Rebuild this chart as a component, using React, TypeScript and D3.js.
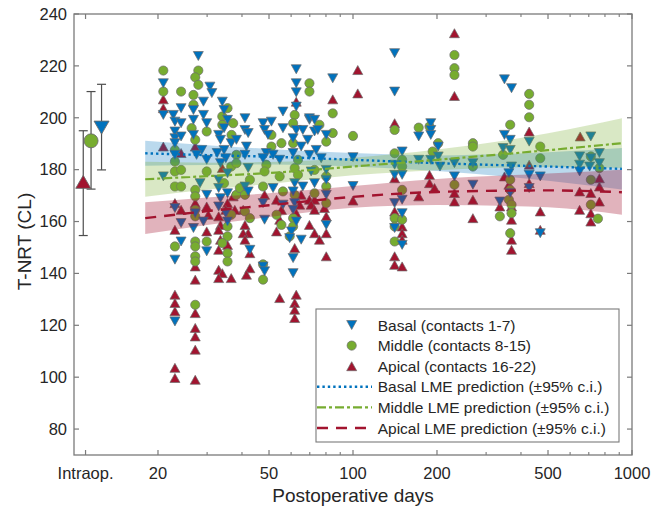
import React from 'react';
import * as d3 from 'd3';

// ---------- DATA ----------
// [postoperative day, T-NRT (CL)]
const basalPoints: [number, number][] = [
  [20.9,213.3],[20.9,201.1],[20.9,177.4],
  [22.7,201.1],[23,198.5],[23,194.7],[23,192.1],[23,190.2],[23,185.7],[23,165.2],[23,145.3],[23,121.5],
  [24.2,203.7],[24.2,197.9],[24.2,192.8],[24.2,159.4],[24.2,152.3],
  [27.9,223.8],[30.7,212],[31.2,209.5],[29.1,206.2],[26.8,203],[29.1,201.1],[26.8,199.2],[29.9,197.9],[26.8,193.4],
  [28.7,187.6],[27.5,185.7],[29.9,183.8],[28.3,174.8],[29.9,170.3],[27.2,163.2],[29.1,160],[26.8,157.5],[29.9,148.5],
  [34,206.2],[34.5,203],[35.5,199.2],[34.5,196],[33,193.4],[33.5,191.5],[36.6,190.2],[34.5,187.6],[32.6,186.4],
  [35,184.4],[33.5,182.5],[35.5,178.6],[33,176.1],[33,172.9],[35.5,170.9],[33.5,169],[33,165.8],[35,163.2],[35.5,160],
  [41,199.8],[41,195.3],[42.1,194.1],[38.2,191.5],[41.5,188.9],[41,185.7],[42.1,180.6],[41,173.5],[42.1,171.6],[42.7,149.1],
  [56.1,202.4],[47.6,197.9],[51,198.5],[56.1,196],[48.2,195.3],[49.6,193.4],[48.9,186.4],[51.7,185.7],[47.6,184.4],
  [54.6,183.8],[51.7,172.9],[47.6,167.1],[56.1,166.5],[48.2,160.7],[47.6,142.7],[48.2,140.8],
  [62.6,218.7],[62.6,213.3],[62.6,209.8],[62.6,204.3],[69.8,199.2],[62.6,195.3],[66.1,195.3],[72.8,194.7],[61,192.1],
  [68.8,191.5],[65.2,188.9],[61,186.4],[69.8,185.7],[70.8,179.3],[61.8,174.8],[66.1,173.5],[61,171.6],[61.8,167.1],
  [61,164.5],[62.6,160],[60.2,156.2],[59.3,153.6],[65.2,153],[61,145.9],[61,140.1],
  [84.6,215.2],[69.8,199.8],[72.8,199.2],[74.8,195.3],[80.2,193.4],[73.8,187.6],[76.9,184.4],[80.2,179.9],[80.2,176.1],
  [72.8,174.8],[80.2,170.3],[80.2,158.7],
  [100,184.8],[100,173.7],
  [141,224.9],[141,210.1],[141,181.9],[141,178],[141,167.1],[141,157.5],
  [150,187],[150,178],[150,168.4],[150,163.2],[150,151],
  [172,192.8],[172,183.8],
  [190,197.9],[190,195.3],[190,193.4],[202,188.9],[190,183.8],[202,185.1],[205,181.2],
  [231,182.5],[231,177.4],
  [269,182.5],[269,174.2],
  [349,214.8],[370,211.4],[349,193.4],[366,191.5],[345,188.3],[366,187.6],[370,181.2],[362,178.6],[366,171],[336,167.7],
  [428,190.8],[428,178],[428,172.9],
  [469,177.4],[469,155.5],
  [712,192.8],[649,185.1],[764,186.4],[712,184.4],[649,181.9],[764,182.5],[705,181.2],[649,179.3],
];

const middlePoints: [number, number][] = [
  [20.9,218.2],[20.9,210.1],
  [23,187.6],[23,183.1],[23,179.3],[23,173.5],[23,150.4],
  [24.2,210.1],[24.2,179.9],[24.2,173.5],
  [27.9,218.2],[27.2,215.6],[27.9,212.7],[26.8,208.8],[26.8,205],[26.4,196],[29.9,194.7],[27.2,191.5],[29.9,179.3],
  [27.2,172.2],[27.2,169.7],[27.2,164.5],[27.2,162],[27.2,152.3],[29.9,152.3],[27.2,150.4],[27.2,146.6],[27.2,144.6],[27.2,127.9],
  [35.5,203.7],[34,200.5],[34,197.3],[36.7,193.4],[36.6,181.2],[34.5,174.8],[38.2,170.3],[36.6,162.6],[35.5,158.1],
  [35.5,154.3],[34,151.7],[35.5,147.8],[35.5,144.6],
  [37.2,197.9],[38.2,185.7],[38.2,182.5],[42.7,176.1],[39.3,172.9],[41,170.3],[41,163.9],[42.7,161.3],
  [51,193.4],[55.4,190.2],[51,188.9],[48.9,181.9],[48.2,179.3],[54.6,177.4],[47.6,173.5],[56.1,171.6],[53.2,162.6],
  [55.4,158.7],[47.6,137.6],[47.6,143.5],
  [69.8,213.3],[69.8,210.1],[61.8,201.1],[61,197.9],[61,190.2],[63.5,183.8],[61.8,180.6],[63.5,178],[61.8,170.3],
  [61,161.3],[61,158.1],[59.3,154.3],
  [84.6,201.7],[75.8,197.3],[84.6,194.1],[80.2,190.8],[72.8,179.9],[80.2,177.4],[80.2,173.5],[72.8,170.9],[80.2,167.1],
  [100,193],
  [141,195.3],[141,186.3],[141,161.3],[141,158.1],[141,152.3],
  [150,183.8],[150,181.2],[150,172.2],[150,160.7],
  [172,196.2],
  [188,196.6],[202,190.2],[193,187],
  [231,224.2],[231,219.1],[231,216.5],[231,174.2],
  [269,190.2],[269,188.9],[269,181.2],
  [366,197.3],[345,185.7],[366,176.1],[366,172.2],[362,168.4],[370,166.5],[370,163.2],[336,162],[366,155.5],
  [428,209.2],[428,205],[428,200.2],
  [469,188.9],[469,184.4],
  [712,185.1],[764,180.6],[712,176.1],[712,166.5],[755,161.1],
];

const apicalPoints: [number, number][] = [
  [20.9,207.1],[20.9,203.7],[20.9,188.9],
  [23,167.1],[23,156.8],[23,131.8],[23,128.6],[23,125.4],[23,103.6],[23,99.7],
  [24.2,186.4],[24.2,164.5],
  [27.2,188.9],[27.2,167.1],[29.9,165.8],[30.3,162.6],[29.9,156.2],[27.2,142.7],[27.2,137.6],[27.2,124.7],[27.2,119],
  [27.2,115.7],[27.2,110.6],[27.2,99],
  [34,180.6],[35.5,167.1],[35,164.5],[33,162],[33.5,158.7],[33,156.8],[33.5,153],[35.5,151],[33,149.1],[33,141.4],
  [34,140.1],[33,138.2],[36.6,138.2],
  [37.2,169.7],[40.4,164.5],[37.7,164.5],[41,158.7],[42.1,155.5],[40.4,155.5],[41,153],[42.7,147.8],[42.7,142],[41.5,139.5],
  [48.2,170.3],[53.2,168.4],[55.4,164.5],[54.6,160.7],[53.2,156.2],[54.6,130.5],
  [62.6,206.2],[65.2,170.3],[69.8,168.4],[64.4,166.5],[62.6,163.2],[61.8,149.8],[62.6,131.8],[61.8,128.6],[61.8,126],[61.8,122.8],
  [84.6,207.1],[72.8,168.4],[70.8,166.5],[79,165.2],[72.8,164.5],[80.2,162],[69.8,158.7],[72.8,155.5],[80.2,155.5],
  [75.8,153],[80.2,146.6],
  [100,168.1],[104,218.4],[104,209.4],
  [141,197.9],[141,176.7],[141,163.9],[141,146.6],[141,143.3],
  [150,158.1],[150,155.5],[150,153],[150,142.7],
  [172,169.7],
  [188,178],[188,174.8],[196,172.9],
  [231,232.6],[231,208.4],[231,171],[231,167.7],
  [269,168.4],[269,161.3],
  [349,177.4],[362,174.2],[336,165.8],[370,165.8],[370,160.7],[370,153],[370,149.1],
  [428,194.7],[428,181.9],[428,174.8],
  [469,163.9],[469,156.8],
  [652,192.8],[764,176.7],[764,173.5],[649,171.6],[712,171],[764,167.7],[649,164.5],[712,163.2],[712,160],
];

// LME predictions (with 95% c.i.)
const predDays = [18, 30, 50, 100, 200, 500, 920];
const basalFit = [186.3, 185.6, 185.0, 183.8, 182.5, 181.2, 180.3];
const basalLow = [181.5, 181.8, 182.0, 181.2, 179.5, 175.7, 172.3];
const basalHigh = [191.1, 189.4, 188.0, 186.4, 185.5, 186.7, 188.3];
const middleFit = [176.3, 177.5, 178.7, 181.2, 183.8, 187.5, 190.2];
const middleLow = [169.6, 172.3, 174.5, 177.8, 179.8, 181.0, 180.6];
const middleHigh = [183.0, 182.7, 182.9, 184.6, 187.8, 194.0, 199.8];
const apicalFit = [161.3, 164.0, 166.3, 169.5, 171.4, 172.0, 171.3];
const apicalLow = [155.2, 158.7, 161.7, 165.3, 166.4, 165.5, 162.6];
const apicalHigh = [167.4, 169.3, 170.9, 173.7, 176.4, 178.5, 180.0];

// Intraoperative means with error bars: apical, middle, basal
const intraopMean = [175.3, 191.1, 196.2];
const intraopLow = [154.6, 172.5, 179.9];
const intraopHigh = [195.0, 210.1, 212.9];
const intraopDay = 11;

const yTicks = [80, 100, 120, 140, 160, 180, 200, 220, 240];
const xMajorTicks = [20, 50, 100, 200, 500, 1000];
const xMinorTicks = [30, 40, 60, 70, 80, 90, 300, 400, 600, 700, 800, 900];
const legendLabels = [
  'Basal (contacts 1-7)',
  'Middle (contacts 8-15)',
  'Apical (contacts 16-22)',
  'Basal LME prediction (\u00B195% c.i.)',
  'Middle LME prediction (\u00B195% c.i.)',
  'Apical LME prediction (\u00B195% c.i.)',
];

// ---------- STYLE ----------
const BLUE = '#0072BD';
const GREEN = '#77AC30';
const RED = '#A2142F';
const EDGE = '#6b6b6b';
const AXIS = '#7a7a7a';
const TEXT = '#262626';
const FONT = '"Liberation Sans", Arial, Helvetica, sans-serif';

const W = 666, H = 508;
const L = 74, R = 632, T = 14, B = 455;

const x = d3.scaleLog().domain([10, 1000]).range([L, R]);
const y = d3.scaleLinear().domain([70, 240]).range([B, T]);

const triUp = (w: number, h: number) => `M0,${-h / 2}L${w / 2},${h / 2}L${-w / 2},${h / 2}Z`;
const triDown = (w: number, h: number) => `M0,${h / 2}L${w / 2},${-h / 2}L${-w / 2},${-h / 2}Z`;

function Marker({ kind, cx, cy, big }: { kind: 'b' | 'm' | 'a'; cx: number; cy: number; big?: boolean }) {
  const w = big ? 15 : 10, h = big ? 13 : 9, r = big ? 7 : 4.6;
  const sw = big ? 0.9 : 0.7;
  if (kind === 'm') return <circle cx={cx} cy={cy} r={r} fill={GREEN} stroke={EDGE} strokeWidth={sw} />;
  return (
    <path
      d={kind === 'b' ? triDown(w, h) : triUp(w, h)}
      transform={`translate(${cx},${cy})`}
      fill={kind === 'b' ? BLUE : RED}
      stroke={EDGE}
      strokeWidth={sw}
    />
  );
}

export default function App() {
  const idx = predDays.map((_, i) => i);
  const area = (lo: number[], hi: number[]) =>
    d3.area<number>().x((i) => x(predDays[i])).y0((i) => y(lo[i])).y1((i) => y(hi[i])).curve(d3.curveMonotoneX)(idx) || '';
  const line = (v: number[]) =>
    d3.line<number>().x((i) => x(predDays[i])).y((i) => y(v[i])).curve(d3.curveMonotoneX)(idx) || '';

  const xi = x(intraopDay);
  const intraopOffsets = [-2.3, 5.5, 16];
  const kinds: ('a' | 'm' | 'b')[] = ['a', 'm', 'b'];

  const legX = 316, legY = 309, legW = 303, legH = 133;
  const rowY = (i: number) => 325 + i * 20.6;

  return (
    <svg width={W} height={H} style={{ display: 'block', position: 'absolute', left: 0, top: 0 }} fontFamily={FONT}>
      <rect width={W} height={H} fill="#fff" />
      <defs>
        <clipPath id="plotclip">
          <rect x={L} y={T} width={R - L} height={B - T} />
        </clipPath>
      </defs>

      <g clipPath="url(#plotclip)">
        {apicalPoints.map((p, i) => <Marker key={'a' + i} kind="a" cx={x(p[0])} cy={y(p[1])} />)}
        {middlePoints.map((p, i) => <Marker key={'m' + i} kind="m" cx={x(p[0])} cy={y(p[1])} />)}
        {basalPoints.map((p, i) => <Marker key={'b' + i} kind="b" cx={x(p[0])} cy={y(p[1])} />)}

        <path d={area(basalLow, basalHigh)} fill={BLUE} fillOpacity={0.27} />
        <path d={area(middleLow, middleHigh)} fill={GREEN} fillOpacity={0.28} />
        <path d={area(apicalLow, apicalHigh)} fill={RED} fillOpacity={0.32} />

        <path d={line(basalFit)} fill="none" stroke={BLUE} strokeWidth={2.4} strokeDasharray="2.4,3" />
        <path d={line(middleFit)} fill="none" stroke={GREEN} strokeWidth={2.2} strokeDasharray="9,3,3,3" />
        <path d={line(apicalFit)} fill="none" stroke={RED} strokeWidth={2.4} strokeDasharray="11,8" />
      </g>

      {/* intraoperative */}
      {kinds.map((k, i) => {
        const cx = xi + intraopOffsets[i];
        return (
          <g key={'io' + k}>
            <line x1={cx} x2={cx} y1={y(intraopLow[i])} y2={y(intraopHigh[i])} stroke="#4d4d4d" strokeWidth={1.2} />
            <line x1={cx - 4.5} x2={cx + 4.5} y1={y(intraopLow[i])} y2={y(intraopLow[i])} stroke="#4d4d4d" strokeWidth={1.2} />
            <line x1={cx - 4.5} x2={cx + 4.5} y1={y(intraopHigh[i])} y2={y(intraopHigh[i])} stroke="#4d4d4d" strokeWidth={1.2} />
          </g>
        );
      })}
      {kinds.map((k, i) => (
        <Marker key={'iom' + k} kind={k} cx={xi + intraopOffsets[i]} cy={y(intraopMean[i])} big />
      ))}

      {/* axes frame */}
      <rect x={L} y={T} width={R - L} height={B - T} fill="none" stroke={AXIS} strokeWidth={1.3} />
      {yTicks.map((t) => (
        <g key={'yt' + t}>
          <line x1={L} x2={L + 5} y1={y(t)} y2={y(t)} stroke={AXIS} strokeWidth={1.2} />
          <line x1={R} x2={R - 5} y1={y(t)} y2={y(t)} stroke={AXIS} strokeWidth={1.2} />
          <text x={L - 7} y={y(t)} dy="0.35em" textAnchor="end" fontSize={16.5} fill={TEXT}>{t}</text>
        </g>
      ))}
      {[...xMajorTicks, intraopDay].map((t) => (
        <g key={'xt' + t}>
          <line x1={x(t)} x2={x(t)} y1={B} y2={B - 5} stroke={AXIS} strokeWidth={1.2} />
          <line x1={x(t)} x2={x(t)} y1={T} y2={T + 5} stroke={AXIS} strokeWidth={1.2} />
        </g>
      ))}
      {xMinorTicks.map((t) => (
        <g key={'xm' + t}>
          <line x1={x(t)} x2={x(t)} y1={B} y2={B - 3} stroke={AXIS} strokeWidth={1.1} />
          <line x1={x(t)} x2={x(t)} y1={T} y2={T + 3} stroke={AXIS} strokeWidth={1.1} />
        </g>
      ))}
      {xMajorTicks.map((t) => (
        <text key={'xl' + t} x={x(t)} y={479} textAnchor="middle" fontSize={16.5} fill={TEXT}>{t}</text>
      ))}
      <text x={xi} y={479} textAnchor="middle" fontSize={16.5} fill={TEXT}>Intraop.</text>

      <text x={(L + R) / 2} y={502} textAnchor="middle" fontSize={19} fill={TEXT}>Postoperative days</text>
      <text transform={`translate(31,${(T + B) / 2 + 7}) rotate(-90)`} textAnchor="middle" fontSize={19} fill={TEXT}>T-NRT (CL)</text>

      {/* legend */}
      <rect x={legX} y={legY} width={legW} height={legH} fill="#fff" stroke={AXIS} strokeWidth={1.1} />
      <Marker kind="b" cx={351.7} cy={rowY(0)} />
      <Marker kind="m" cx={351.7} cy={rowY(1)} />
      <Marker kind="a" cx={351.7} cy={rowY(2)} />
      <line x1={317} x2={372} y1={rowY(3)} y2={rowY(3)} stroke={BLUE} strokeWidth={2.4} strokeDasharray="2.4,3" />
      <line x1={317} x2={372} y1={rowY(4)} y2={rowY(4)} stroke={GREEN} strokeWidth={2.2} strokeDasharray="9,3,3,3" />
      <line x1={317} x2={372} y1={rowY(5)} y2={rowY(5)} stroke={RED} strokeWidth={2.4} strokeDasharray="11,8" />
      {legendLabels.map((s, i) => (
        <text key={'ll' + i} x={377.7} y={rowY(i)} dy="0.36em" fontSize={15.5} fill={TEXT}>{s}</text>
      ))}
    </svg>
  );
}
